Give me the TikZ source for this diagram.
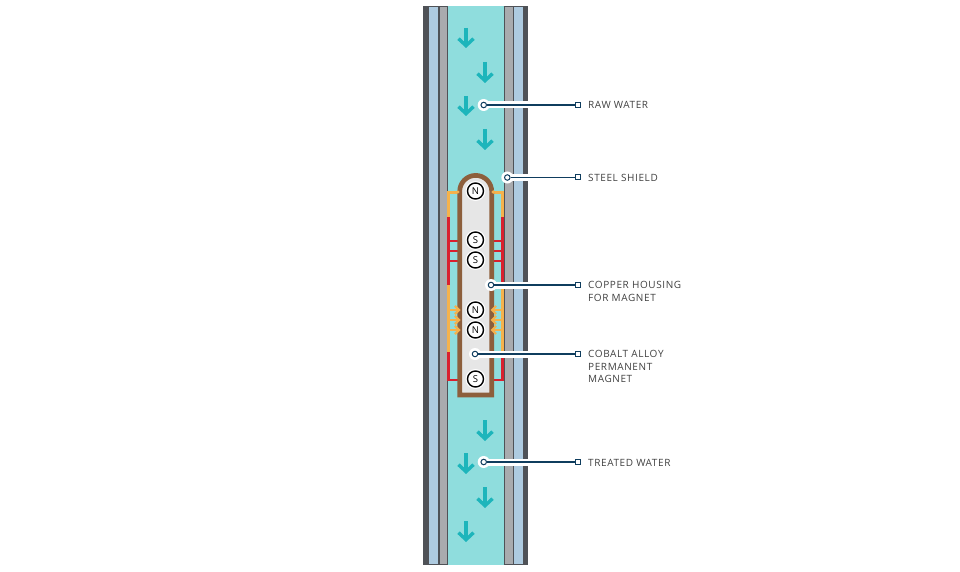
\documentclass[tikz,border=0pt]{standalone}
\usepackage{fontspec}
\setmainfont[LetterSpace=6]{Open Sans}
\usepackage{tikz}
\usetikzlibrary{arrows.meta,positioning}
\definecolor{waterc}{HTML}{8FDDDD}
\definecolor{flowc}{HTML}{1DB5BB}
\definecolor{wallc}{HTML}{A9ABAE}
\definecolor{shieldc}{HTML}{AECBE0}
\definecolor{darkc}{HTML}{4F5257}
\definecolor{copperc}{HTML}{8D5F3C}
\definecolor{magnetc}{HTML}{E6E6E6}
\definecolor{redc}{HTML}{D9202E}
\definecolor{yellowc}{HTML}{F5B24C}
\definecolor{leaderc}{HTML}{0F3D5E}
\definecolor{labelc}{HTML}{404040}

\begin{document}
\begin{tikzpicture}[x=1pt,y=-1pt,
  flow/.style={->,>={Straight Barb[length=7pt,width=15pt]},draw=flowc,line width=3.4pt},
  pole/.style={circle,draw=black,fill=white,line width=1.4pt,inner sep=0pt,
    minimum size=16pt,font=\fontsize{9.5}{9.5}\selectfont},
  halo/.style={circle,fill=white,inner sep=0pt,minimum size=20pt},
  redwire/.style={draw=redc,line width=2.8pt},
  yellowwire/.style={draw=yellowc,line width=3pt},
  tap/.style={->,>={Straight Barb[length=4pt,width=8pt]},draw=yellowc,line width=2.2pt},
  dot/.style={circle,draw=leaderc,fill=white,line width=1pt,inner sep=0pt,
    minimum size=5.5pt},
  dothalo/.style={circle,fill=white,inner sep=0pt,minimum size=12pt},
  tip/.style={rectangle,draw=leaderc,fill=white,line width=1pt,inner sep=0pt,
    minimum size=5pt},
  leader/.style={draw=leaderc,line width=1.1pt},
  casing/.style={draw=white,line width=7pt},
  tag/.style={text=labelc,font=\fontsize{10}{12.6}\selectfont,align=left,
    inner sep=0pt,anchor=west}]

  \useasboundingbox (0,0) rectangle (960,572);

  % water
  \fill[waterc] (448,6) rectangle (504,565);

  % left wall
  \fill[darkc] (423,6) rectangle (429,565);
  \fill[shieldc] (429,6) rectangle (438,565);
  \fill[darkc] (438,6) rectangle (439.5,565);
  \fill[wallc] (439.5,6) rectangle (447,565);
  \fill[darkc] (447,6) rectangle (448,565);
  \draw[darkc,line width=1pt] (423,6.5) -- (448,6.5) (423,564.5) -- (448,564.5);

  % right wall
  \fill[darkc] (503.5,6) rectangle (505,565);
  \fill[wallc] (505,6) rectangle (512.5,565);
  \fill[darkc] (512.5,6) rectangle (514,565);
  \fill[shieldc] (514,6) rectangle (522.5,565);
  \fill[darkc] (522.5,6) rectangle (528,565);
  \draw[darkc,line width=1pt] (503.5,6.5) -- (528,6.5) (503.5,564.5) -- (528,564.5);

  % flow arrows
  \draw[flow] (466,28) -- (466,48);
  \draw[flow] (485,62) -- (485,83);
  \draw[flow] (466,96) -- (466,116);
  \draw[flow] (485,129) -- (485,150);
  \draw[flow] (485,420) -- (485,441);
  \draw[flow] (466,453) -- (466,474);
  \draw[flow] (485,487) -- (485,508);
  \draw[flow] (466,521) -- (466,542);

  % wires
  \draw[yellowwire] (448.3,217) -- (448.3,192.3) -- (459,192.3);
  \draw[yellowwire] (502.3,217) -- (502.3,192.3) -- (492,192.3);
  \draw[redwire] (448.3,217) -- (448.3,285);
  \draw[redwire] (502.3,217) -- (502.3,285);
  \draw[yellowwire] (448.3,285) -- (448.3,352);
  \draw[yellowwire] (502.3,285) -- (502.3,352);
  \draw[redwire] (448.3,352) -- (448.3,380) -- (459,380);
  \draw[redwire] (502.3,352) -- (502.3,380) -- (492,380);
  \draw[redwire] (448.3,241) -- (459,241) (448.3,251) -- (459,251) (448.3,261) -- (459,261);
  \draw[redwire] (502.3,241) -- (492,241) (502.3,251) -- (492,251) (502.3,261) -- (492,261);

  % housing
  \draw[copperc,fill=magnetc,line width=4.7pt] (459.7,395) -- (459.7,191.4)
    arc[start angle=180,end angle=360,radius=16] -- (491.7,395) -- cycle;
  \fill[yellowc] (457.8,192) circle[radius=1.8];
  \fill[yellowc] (493.2,192) circle[radius=1.8];
  \draw[tap] (448.3,310) -- (460.5,310);
  \draw[tap] (448.3,320) -- (460.5,320);
  \draw[tap] (448.3,330) -- (460.5,330);
  \draw[tap] (502.3,310) -- (490.5,310);
  \draw[tap] (502.3,320) -- (490.5,320);
  \draw[tap] (502.3,330) -- (490.5,330);

  % magnets
  \node[halo] at (475.5,191) {};
  \node[halo] at (475.5,240) {};
  \node[halo] at (475.5,260) {};
  \node[halo] at (475.5,310) {};
  \node[halo] at (475.5,330) {};
  \node[halo] at (475.5,379) {};
  \node[pole] (N1) at (475.5,191) {N};
  \node[pole] (S1) at (475.5,240) {S};
  \node[pole] (S2) at (475.5,260) {S};
  \node[pole] (N2) at (475.5,310) {N};
  \node[pole] (N3) at (475.5,330) {N};
  \node[pole] (S3) at (475.5,379) {S};

  % leaders
  \node[tip] (rawend)    at (578,105) {};
  \node[tip] (steelend)  at (578,177.5) {};
  \node[tip] (copperend) at (578,285) {};
  \node[tip] (cobaltend) at (578,354) {};
  \node[tip] (treatend)  at (578,462) {};

  \node[dothalo] at (483.7,105) {};
  \node[dothalo] at (507.3,177.5) {};
  \node[dothalo] at (491,285) {};
  \node[dothalo] at (475,354) {};
  \node[dothalo] at (483.7,462) {};

  \node[dot] (rawdot)    at (483.7,105) {};
  \node[dot] (steeldot)  at (507.3,177.5) {};
  \node[dot] (copperdot) at (491,285) {};
  \node[dot] (cobaltdot) at (475,354) {};
  \node[dot] (treatdot)  at (483.7,462) {};

  \path[casing] (rawdot) -- (rawend)
        (steeldot) -- (steelend)
        (copperdot) -- (copperend)
        (cobaltdot) -- (cobaltend)
        (treatdot) -- (treatend);
  \path[leader] (rawdot) -- (rawend)
        (steeldot) -- (steelend)
        (copperdot) -- (copperend)
        (cobaltdot) -- (cobaltend)
        (treatdot) -- (treatend);

  % labels
  \node[tag] (rawtag)    at (588,105) {RAW WATER};
  \node[tag] (steeltag)  at (588,178) {STEEL SHIELD};
  \node[tag,anchor=north west] (coppertag) at (588,281) {COPPER HOUSING\\FOR MAGNET};
  \node[tag,anchor=north west] (cobalttag) at (588,350) {COBALT ALLOY\\PERMANENT\\MAGNET};
  \node[tag] (treattag)  at (588,462.5) {TREATED WATER};
\end{tikzpicture}
\end{document}
